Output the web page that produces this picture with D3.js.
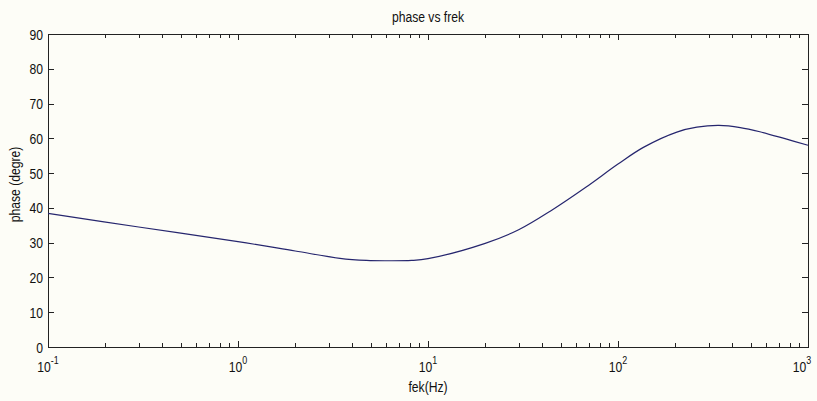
<!DOCTYPE html>
<html lang="en">
	<head>
		<meta charset="utf-8">
		<title>phase vs frek</title>
		<script type="text/javascript" src="https://d3js.org/d3.v7.min.js"></script>
		<style>
			body { margin:0; background:#fdfdf7; }
			text { font-family:"Liberation Sans",Arial,sans-serif; fill:#111; }
		</style>
	</head>
	<body>
		<svg id="chart"></svg>
		<script>

			// frequency (Hz) and phase (degree)
			var freq  = [0.1, 0.3, 1, 2, 3.44, 4.75, 6, 8.2, 10, 20, 30, 45, 68, 100, 136, 204, 260, 340, 440, 558, 757, 1000];
			var phase = [38.4, 34.5, 30.3, 27.6, 25.5, 24.9, 24.8, 24.9, 25.4, 29.8, 33.7, 39.4, 46, 52.6, 57.4, 61.8, 63.2, 63.7, 63.1, 61.9, 59.9, 58.0];
			var xMajor = [-1, 0, 1, 2, 3];   // exponents of the decade ticks
			var yTicks = [0, 10, 20, 30, 40, 50, 60, 70, 80, 90];

			var width = 817;
			var height = 401;
			var border = {left:48, right:9, top:34, bottom:54};
			var squeeze = 0.81;   // the original font is a condensed one

			var chart = d3.select("#chart")
				.attr("width", width)
				.attr("height", height);

			var xScale = d3.scaleLog()
				.domain([0.1, 1000])
				.range([border.left, width - border.right]);

			var yScale = d3.scaleLinear()
				.domain([0, 90])
				.range([height - border.bottom, border.top]);

			var x0 = border.left, x1 = width - border.right;
			var y0 = height - border.bottom, y1 = border.top;

			// minor ticks 2..9 in each decade
			var minor = [];
			for (var e = -1; e < 3; e++) {
				for (var k = 2; k <= 9; k++) minor.push(k * Math.pow(10, e));
			}

			var ticks = chart.append("g").attr("stroke", "#222").attr("stroke-width", 1);

			minor.forEach(function(v){
				var x = Math.round(xScale(v)) + 0.5;
				ticks.append("line").attr("x1", x).attr("x2", x).attr("y1", y0).attr("y2", y0 - 4);
				ticks.append("line").attr("x1", x).attr("x2", x).attr("y1", y1).attr("y2", y1 + 4);
			});
			xMajor.forEach(function(p){
				var x = Math.round(xScale(Math.pow(10, p))) + 0.5;
				ticks.append("line").attr("x1", x).attr("x2", x).attr("y1", y0).attr("y2", y0 - 6);
				ticks.append("line").attr("x1", x).attr("x2", x).attr("y1", y1).attr("y2", y1 + 6);
			});
			yTicks.forEach(function(v){
				var y = Math.round(yScale(v)) + 0.5;
				ticks.append("line").attr("x1", x0).attr("x2", x0 + 6).attr("y1", y).attr("y2", y);
				ticks.append("line").attr("x1", x1).attr("x2", x1 - 6).attr("y1", y).attr("y2", y);
			});

			// box
			chart.append("rect")
				.attr("x", x0 + 0.5)
				.attr("y", y1 + 0.5)
				.attr("width", x1 - x0)
				.attr("height", y0 - y1)
				.attr("fill", "none")
				.attr("stroke", "#222")
				.attr("stroke-width", 1);

			// y tick labels
			chart.append("g")
				.selectAll("text")
				.data(yTicks)
				.enter()
				.append("text")
				.attr("transform", d => "translate(" + (x0 - 5) + "," + (yScale(d) + 5.5) + ") scale(" + squeeze + ",1)")
				.attr("text-anchor", "end")
				.attr("font-size", 15)
				.text(d => d);

			// x tick labels 10^p (the last one is pulled in so it stays on the page)
			var xl = chart.append("g")
				.selectAll("text")
				.data(xMajor)
				.enter()
				.append("text")
				.attr("transform", d => "translate(" + Math.min(xScale(Math.pow(10, d)), width - 15) + "," + (y0 + 25) + ") scale(" + squeeze + ",1)")
				.attr("text-anchor", "middle")
				.attr("font-size", 15);
			xl.append("tspan").text("10");
			xl.append("tspan")
				.attr("dy", -8)
				.attr("font-size", 11)
				.text(d => d);

			// the curve
			var line = d3.line()
				.x((d, i) => xScale(freq[i]))
				.y(d => yScale(d))
				.curve(d3.curveCatmullRom.alpha(0.5));

			chart.append("path")
				.datum(phase)
				.attr("d", line)
				.attr("fill", "none")
				.attr("stroke", "#26266e")
				.attr("stroke-width", 1.2);

			// titles
			chart.append("text")
				.attr("transform", "translate(" + ((x0 + x1) / 2) + ",22) scale(" + squeeze + ",1)")
				.attr("text-anchor", "middle")
				.attr("font-size", 15)
				.text("phase vs frek");

			chart.append("text")
				.attr("transform", "translate(" + ((x0 + x1) / 2) + ",392) scale(" + squeeze + ",1)")
				.attr("text-anchor", "middle")
				.attr("font-size", 15)
				.text("fek(Hz)");

			chart.append("text")
				.attr("transform", "translate(20," + ((y0 + y1) / 2 - 6) + ") rotate(-90) scale(" + squeeze + ",1)")
				.attr("text-anchor", "middle")
				.attr("font-size", 15)
				.text("phase (degre)");
		</script>
</body>
</html>
